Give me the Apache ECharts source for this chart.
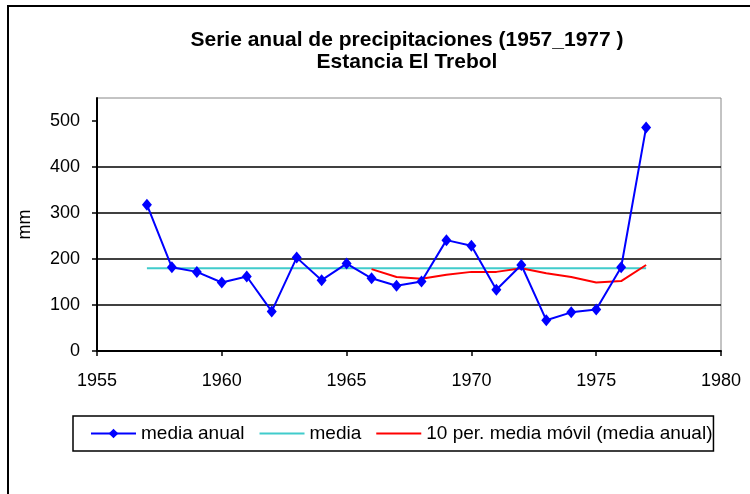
<!DOCTYPE html>
<html>
<head>
<meta charset="utf-8">
<script src="https://cdn.jsdelivr.net/npm/echarts@6/dist/echarts.min.js"></script>
<style>
  html, body { margin: 0; padding: 0; background: #fff; }
  #chart { width: 750px; height: 494px; }
</style>
</head>
<body>
<div id="chart"></div>
<script>
// annual precipitation, Estancia El Trebol
const years = [1957, 1958, 1959, 1960, 1961, 1962, 1963, 1964, 1965, 1966, 1967,
  1968, 1969, 1970, 1971, 1972, 1973, 1974, 1975, 1976, 1977];
const mediaAnual = [318, 182, 172, 149, 162, 86, 203, 154, 190, 158, 142,
  151, 241, 229, 133, 187, 67, 84, 90, 182, 486];
const media = [180, 180, 180, 180, 180, 180, 180, 180, 180, 180, 180,
  180, 180, 180, 180, 180, 180, 180, 180, 180, 180];
const movilYears = [1966, 1967, 1968, 1969, 1970, 1971, 1972, 1973, 1974, 1975, 1976, 1977];
const mediaMovil = [178, 161, 157, 166, 172, 172, 180, 169, 161, 149, 152, 187];
const yTicks = [0, 100, 200, 300, 400, 500];

const pairs = (xs, ys) => xs.map((x, i) => [x, ys[i]]);
const FONT = '"Liberation Sans", Arial, sans-serif';

const myChart = echarts.init(document.getElementById('chart'));
const option = {
  animation: false,
  backgroundColor: '#fff',
  title: {
    text: 'Serie anual de precipitaciones (1957_1977 )\nEstancia El Trebol',
    left: 407,
    top: 29,
    textAlign: 'center',
    padding: 0,
    textStyle: {
      fontFamily: FONT,
      fontSize: 21,
      fontWeight: 'bold',
      lineHeight: 22,
      color: '#000'
    }
  },
  graphic: [
    {
      type: 'rect',
      silent: true,
      shape: { x: 8, y: 6, width: 800, height: 600 },
      style: { fill: 'none', stroke: '#000', lineWidth: 2 }
    }
  ],
  legend: {
    left: 73,
    top: 416,
    padding: [8, 1, 8, 17],
    borderColor: '#000',
    borderWidth: 1.5,
    itemWidth: 45,
    itemHeight: 12,
    itemGap: 14,
    textStyle: { fontFamily: FONT, fontSize: 19, color: '#000' },
    data: [
      { name: 'media anual' },
      { name: 'media', itemStyle: { opacity: 0 } },
      { name: '10 per. media móvil (media anual)', itemStyle: { opacity: 0 } }
    ]
  },
  grid: {
    left: 97,
    right: 29,
    top: 98,
    bottom: 143,
    show: true,
    borderColor: '#888',
    borderWidth: 1,
    outerBoundsMode: 'none'
  },
  xAxis: {
    type: 'value',
    min: 1955,
    max: 1980,
    interval: 5,
    axisLine: { show: true, onZero: false, lineStyle: { color: '#000', width: 2 } },
    axisTick: { show: true, length: 5, lineStyle: { color: '#000', width: 1.5 } },
    axisLabel: {
      fontFamily: FONT, fontSize: 18, color: '#000', margin: 21,
      formatter: v => String(v)
    },
    splitLine: { show: false }
  },
  yAxis: {
    type: 'value',
    min: 0,
    max: 550,
    interval: 100,
    name: 'mm',
    nameLocation: 'middle',
    nameRotate: 90,
    nameGap: 63,
    nameTextStyle: { fontFamily: FONT, fontSize: 18, color: '#000' },
    axisLine: { show: true, lineStyle: { color: '#000', width: 2 } },
    axisTick: { show: true, length: 5, customValues: yTicks, lineStyle: { color: '#000', width: 1.5 } },
    axisLabel: { fontFamily: FONT, fontSize: 18, color: '#000', margin: 17, customValues: yTicks },
    splitLine: { show: true, showMaxLine: false, lineStyle: { color: '#000', width: 1.5 } }
  },
  series: [
    {
      name: 'media',
      type: 'line',
      data: pairs(years, media),
      symbol: 'none',
      lineStyle: { color: '#40CCCC', width: 2 },
      itemStyle: { color: '#40CCCC' },
      z: 2
    },
    {
      name: '10 per. media móvil (media anual)',
      type: 'line',
      data: pairs(movilYears, mediaMovil),
      symbol: 'none',
      lineStyle: { color: '#FF0000', width: 2 },
      itemStyle: { color: '#FF0000' },
      z: 3
    },
    {
      name: 'media anual',
      type: 'line',
      data: pairs(years, mediaAnual),
      symbol: 'diamond',
      symbolSize: [10, 12],
      lineStyle: { color: '#0000FF', width: 2 },
      itemStyle: { color: '#0000FF' },
      z: 4
    }
  ]
};
myChart.setOption(option);
</script>
</body>
</html>
